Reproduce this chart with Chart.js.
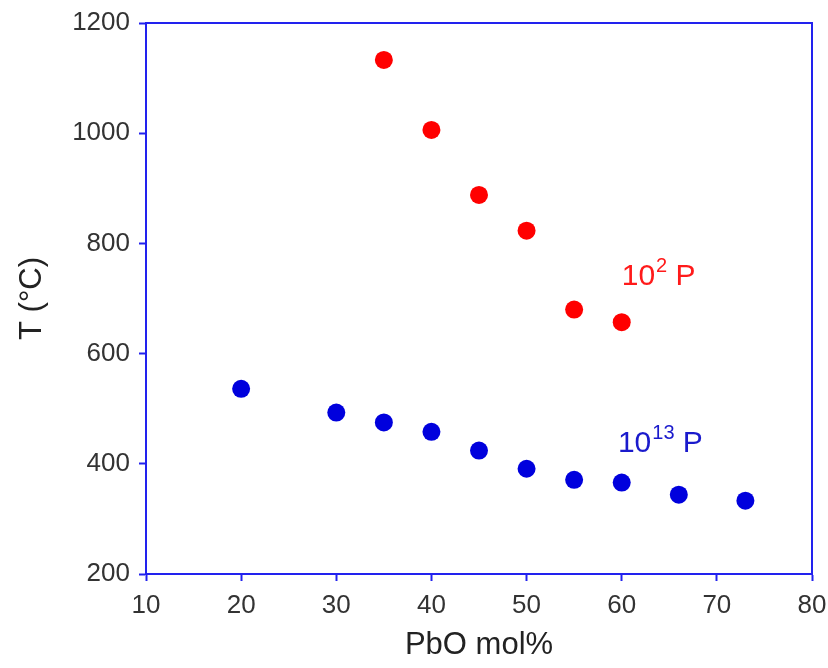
<!DOCTYPE html>
<html>
<head>
<meta charset="utf-8">
<script src="https://cdn.jsdelivr.net/npm/chart.js@4/dist/chart.umd.min.js"></script>
<style>
  html, body { margin: 0; padding: 0; background: #fff; }
  #wrap { width: 828px; height: 668px; }
</style>
</head>
<body>
<div id="wrap"><canvas id="chart"></canvas></div>
<script>
// data
const pbo10e2 = [35, 40, 45, 50, 55, 60];
const temp10e2 = [1133, 1006, 888, 823, 680, 657];
const pbo10e13 = [20, 30, 35, 40, 45, 50, 55, 60, 66, 73];
const temp10e13 = [536, 493, 475, 458, 424, 391, 371, 366, 344, 333];
const xTicks = [10, 20, 30, 40, 50, 60, 70, 80];
const yTicks = [200, 400, 600, 800, 1000, 1200];

const FONT = 'Arial, "Liberation Sans", sans-serif';
const AXIS_BLUE = '#2222ee';

function toPoints(xs, ys) {
    return xs.map((x, i) => ({ x: x, y: ys[i] }));
}

// box round the plot area + the two curve labels
const framePlugin = {
    id: 'frame',
    afterDraw(chart) {
        const { ctx, chartArea: a, scales } = chart;
        ctx.save();
        ctx.strokeStyle = AXIS_BLUE;
        ctx.lineWidth = 2;
        ctx.strokeRect(a.left, a.top, a.right - a.left, a.bottom - a.top);

        const drawLabel = (x, y, sup, color) => {
            const px = scales.x.getPixelForValue(x);
            const py = scales.y.getPixelForValue(y);
            ctx.fillStyle = color;
            ctx.textBaseline = 'alphabetic';
            ctx.textAlign = 'left';
            ctx.font = '30px ' + FONT;
            ctx.fillText('10', px, py);
            let w = ctx.measureText('10').width;
            ctx.font = '20px ' + FONT;
            ctx.fillText(sup, px + w + 1, py - 13);
            w += ctx.measureText(sup).width + 1;
            ctx.font = '30px ' + FONT;
            ctx.fillText(' P', px + w, py);
        };
        drawLabel(60.0, 725, '2', '#ff1a1a');
        drawLabel(59.6, 422, '13', '#1a1acc');
        ctx.restore();
    }
};

new Chart(document.getElementById('chart'), {
    type: 'scatter',
    data: {
        datasets: [
            {
                label: '10^2 P',
                data: toPoints(pbo10e2, temp10e2),
                backgroundColor: '#ff0000',
                borderWidth: 0,
                pointRadius: 9,
                pointHoverRadius: 9
            },
            {
                label: '10^13 P',
                data: toPoints(pbo10e13, temp10e13),
                backgroundColor: '#0000dd',
                borderWidth: 0,
                pointRadius: 9,
                pointHoverRadius: 9
            }
        ]
    },
    options: {
        responsive: true,
        maintainAspectRatio: false,
        animation: false,
        layout: { padding: { top: 23, right: 0, left: 10, bottom: 0 } },
        plugins: { legend: { display: false }, tooltip: { enabled: false } },
        scales: {
            x: {
                type: 'linear',
                min: 10,
                max: 80,
                afterBuildTicks(axis) { axis.ticks = xTicks.map(v => ({ value: v })); },
                afterFit(axis) {
                    axis.height = 94;
                    axis.paddingLeft = 0;
                    axis.paddingRight = 16;
                },
                grid: { drawOnChartArea: false, drawTicks: true, tickLength: 7, tickWidth: 2, tickColor: AXIS_BLUE },
                border: { color: AXIS_BLUE, width: 2 },
                ticks: { color: '#333', font: { family: FONT, size: 26 }, padding: 9, callback: v => String(v) },
                title: { display: true, text: 'PbO mol%', color: '#222', font: { family: FONT, size: 31 }, padding: { top: 8 } }
            },
            y: {
                type: 'linear',
                min: 200,
                max: 1200,
                afterBuildTicks(axis) { axis.ticks = yTicks.map(v => ({ value: v })); },
                afterFit(axis) {
                    axis.width = 136;
                    axis.paddingTop = 0;
                    axis.paddingBottom = 0;
                },
                grid: { drawOnChartArea: false, drawTicks: true, tickLength: 7, tickWidth: 2, tickColor: AXIS_BLUE },
                border: { color: AXIS_BLUE, width: 2 },
                ticks: { color: '#333', font: { family: FONT, size: 26 }, padding: 9, callback: v => String(v) },
                title: { display: true, text: 'T (°C)', color: '#222', font: { family: FONT, size: 31 }, padding: { bottom: 0 } }
            }
        }
    },
    plugins: [framePlugin]
});
</script>
</body>
</html>
